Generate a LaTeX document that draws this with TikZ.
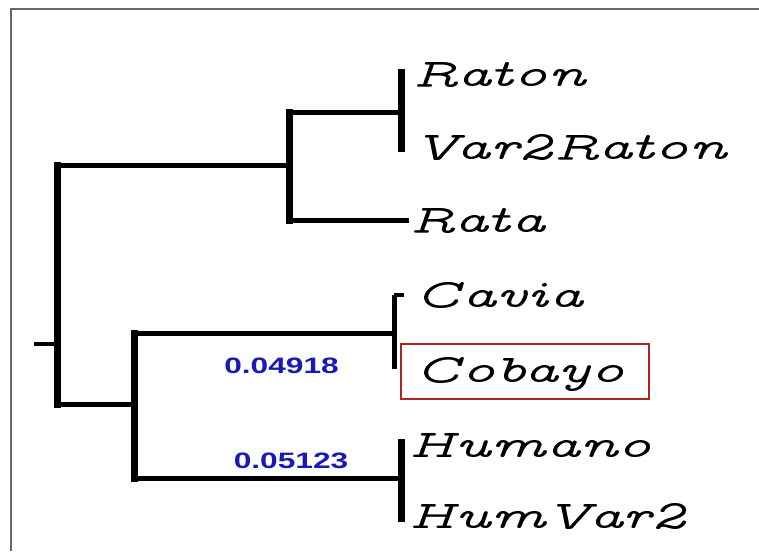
\documentclass[tikz,border=0pt]{standalone}
\usepackage{fontspec}
\newfontfamily\numfont{Liberation Sans}
\newcommand{\labfont}{\fontencoding{OT1}\fontfamily{cmvtt}\fontseries{m}\fontshape{it}\fontsize{24.88}{26}\selectfont}
\newcommand{\lab}[1]{\scalebox{2.27}[1.61]{\labfont #1}}
\newcommand{\numlab}[1]{\scalebox{1.42}[1]{\numfont\bfseries\fontsize{22.3}{24}\selectfont #1}}
\definecolor{framegray}{RGB}{105,105,105}
\definecolor{numblue}{RGB}{25,25,185}
\definecolor{boxred}{RGB}{175,35,35}
\begin{document}
\begin{tikzpicture}[x=1pt,y=-1pt,
  hor/.style={line width=5pt, line cap=rect},
  vert/.style={line width=7pt, line cap=rect},
  stub/.style={line width=4pt},
  lab/.style={inner sep=0pt, anchor=base west},
  num/.style={inner sep=0pt, anchor=base, text=numblue},
  frameline/.style={draw=framegray, line width=2.5pt}]
\fill[white] (0,0) rectangle (759,551);
\useasboundingbox (0,0) rectangle (759,551);
% frame
\coordinate (fL) at (11,551);
\coordinate (fC) at (11,9);
\coordinate (fR) at (759,9);
\draw[frameline] (fL) -- (fC) -- (fR);
% coordinates of the tree
\coordinate (s) at (34,344);
\coordinate (r) at (57,344);
\coordinate (ra) at (57,165);
\coordinate (rb) at (57,404);
\coordinate (u) at (289,165);
\coordinate (u1) at (289,112);
\coordinate (u2) at (289,220);
\coordinate (rr) at (401,112);
\coordinate (rrT) at (401,72);
\coordinate (rrB) at (401,148);
\coordinate (rata) at (406,220);
\coordinate (l) at (134,404);
\coordinate (l1) at (134,333);
\coordinate (l2) at (134,478);
\coordinate (cc) at (394,333);
\coordinate (ccT) at (394,295);
\coordinate (ccB) at (394,369);
\coordinate (ccTe) at (404,295);
\coordinate (hh) at (401,478);
\coordinate (hhT) at (401,442);
\coordinate (hhB) at (401,518);
% branches
\draw[stub] (s) -- (r);
\draw[vert] (ra) -- (rb);
\draw[hor] (ra) -- (u);
\draw[hor] (rb) -- (l);
\draw[vert] (u1) -- (u2);
\draw[hor] (u1) -- (rr);
\draw[hor] (u2) -- (rata);
\draw[vert] (rrT) -- (rrB);
\draw[vert] (l1) -- (l2);
\draw[hor] (l1) -- (cc);
\draw[hor] (l2) -- (hh);
\draw[line width=5pt] (ccT) -- (ccB);
\draw[line width=3.5pt] (ccT) -- (ccTe);
\draw[vert] (hhT) -- (hhB);
% red box
\node[draw=boxred, line width=2pt, minimum width=248pt, minimum height=55pt, inner sep=0pt, anchor=north west] (box) at (400,343) {};
% labels
\node[lab] (raton) at (412,86) {\lab{Raton}};
\node[lab] (var2raton) at (413,159) {\lab{Var2Raton}};
\node[lab] (rata-l) at (409,232) {\lab{Rata}};
\node[lab] (cavia) at (414,307) {\lab{Cavia}};
\node[lab] (cobayo) at (414,382) {\lab{Cobayo}};
\node[lab] (humano) at (408,457) {\lab{Humano}};
\node[lab] (humvar2) at (408,528) {\lab{HumVar2}};
% numbers
\node[num] (n1) at (281.5,373) {\numlab{0.04918}};
\node[num] (n2) at (291,468) {\numlab{0.05123}};
\end{tikzpicture}
\end{document}
